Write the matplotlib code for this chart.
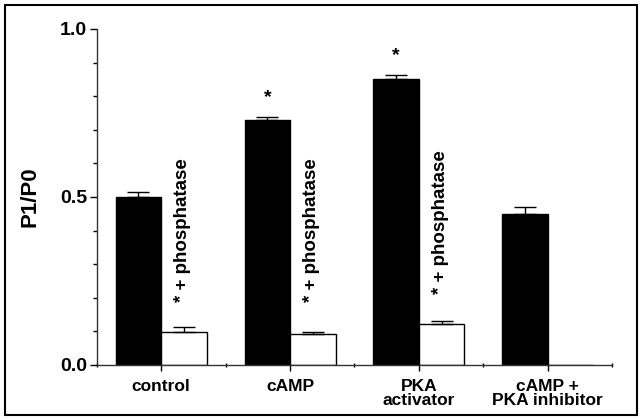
import matplotlib
matplotlib.use("Agg")
import matplotlib.pyplot as plt
import numpy as np
from matplotlib.patches import Rectangle
from matplotlib.ticker import MultipleLocator

categories = ["control", "cAMP", "PKA\nactivator", "cAMP +\nPKA inhibitor"]
basal = [0.50, 0.729, 0.851, 0.449]
basal_err = [0.015, 0.009, 0.012, 0.021]
phos = [0.098, 0.092, 0.122, 0.0]
phos_err = [0.015, 0.006, 0.008, 0.0]
basal_sig = [False, True, True, False]
phos_label = ["* + phosphatase", "* + phosphatase", "* + phosphatase", None]

plt.rcParams['font.family'] = ['Liberation Sans', 'DejaVu Sans']
plt.rcParams['font.weight'] = 'bold'

fig = plt.figure(figsize=(6.41, 4.2), dpi=100)
ax = fig.add_axes([0.151, 0.131, 0.804, 0.80])

x = np.arange(len(categories))
w = 0.353
ax.bar(x - w/2, basal, w, color='black', edgecolor='black', linewidth=1)
ax.bar(x + w/2, phos, w, color='white', edgecolor='black', linewidth=1)
ax.errorbar(x - w/2, basal, yerr=[np.zeros(4), basal_err], fmt='none',
            ecolor='black', elinewidth=1, capsize=8, capthick=1)
pe_x = [xi + w/2 for xi, e in zip(x, phos_err) if e > 0]
pe_y = [p for p, e in zip(phos, phos_err) if e > 0]
pe_e = [e for e in phos_err if e > 0]
ax.errorbar(pe_x, pe_y, yerr=[np.zeros(len(pe_e)), pe_e], fmt='none',
            ecolor='black', elinewidth=1, capsize=8, capthick=1)

for xi, b, e, s in zip(x, basal, basal_err, basal_sig):
    if s:
        ax.text(xi - w/2, b + e + 0.058, "*", ha='center', va='center',
                fontsize=14, fontweight='bold')

label_y = [0.188, 0.188, 0.21]
for xi, lab, ly in zip(x, phos_label, label_y + [None]):
    if lab:
        ax.text(xi + w/2 - 0.01, ly, lab, rotation=90, ha='center', va='bottom',
                fontsize=13.5, fontweight='bold')

ax.set_xlim(-0.5, 3.5)
ax.set_ylim(0, 1.0)
ax.set_xticks(x)
ax.set_xticklabels(categories, fontsize=12.5, fontweight='bold', linespacing=0.95)
ax.xaxis.set_minor_locator(MultipleLocator(0.5))
ax.set_yticks([0, 0.5, 1.0])
ax.set_yticklabels(["0.0", "0.5", "1.0"], fontsize=14, fontweight='bold')
ax.yaxis.set_minor_locator(MultipleLocator(0.1))
ax.tick_params(axis='y', which='major', length=5, width=1, pad=2)
ax.tick_params(axis='y', which='minor', length=3, width=1)
ax.tick_params(axis='x', which='major', length=4, width=1, pad=6)
ax.tick_params(axis='x', which='minor', length=3, width=1, direction='inout')
for sp in ['top', 'right']:
    ax.spines[sp].set_visible(False)
for sp in ['left', 'bottom']:
    ax.spines[sp].set_linewidth(1)
    ax.spines[sp].set_color('#333333')
ax.set_ylabel("P1/P0", fontsize=16, fontweight='bold', labelpad=14)

fig.patches.append(Rectangle((0.008, 0.012), 0.986, 0.976, transform=fig.transFigure,
                             fill=False, edgecolor='black', linewidth=1.5))

fig.savefig("out.png", dpi=100)
